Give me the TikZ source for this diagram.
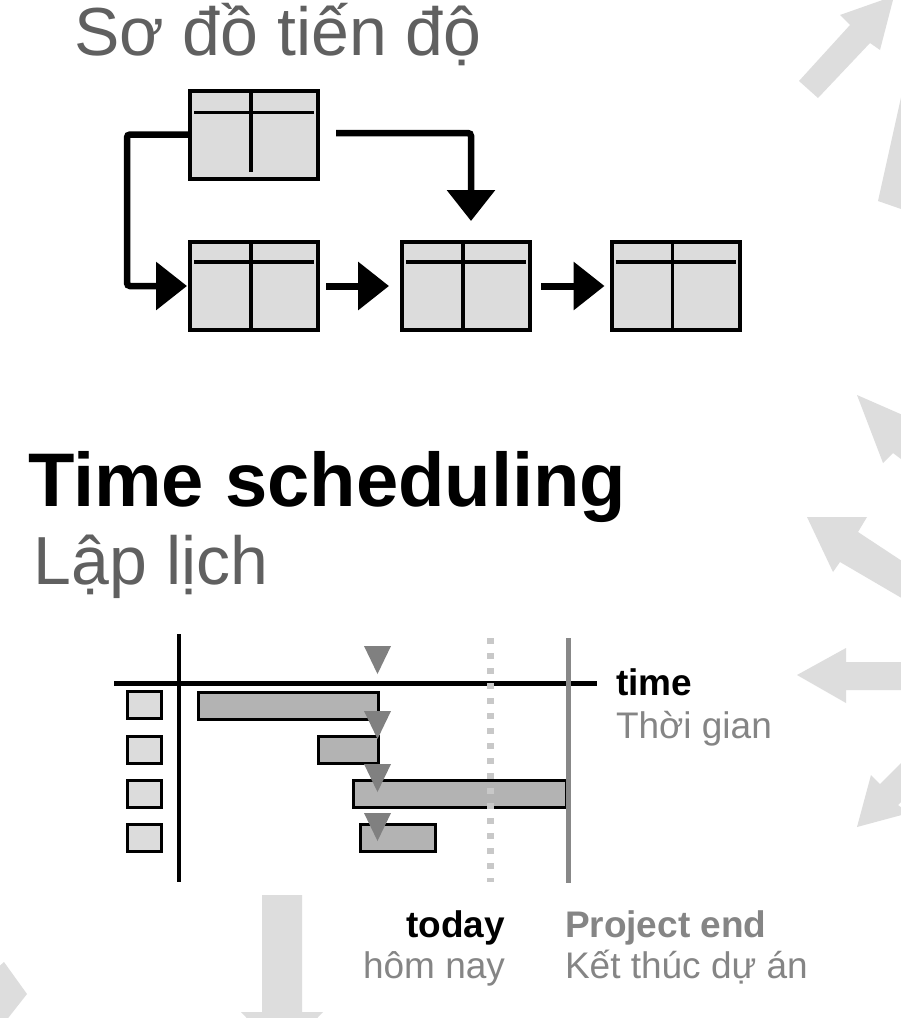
\documentclass[tikz,border=0pt]{standalone}
\usepackage{fontspec}
\setmainfont{Liberation Sans}
\usetikzlibrary{arrows.meta}
\definecolor{boxgray}{HTML}{DCDCDC}
\definecolor{bargray}{HTML}{B3B3B3}
\definecolor{trigray}{HTML}{808080}
\definecolor{dotgray}{HTML}{C8C8C8}
\definecolor{endgray}{HTML}{888888}
\definecolor{decogray}{HTML}{DDDDDD}
\definecolor{titlegray}{HTML}{606060}
\definecolor{labelgray}{HTML}{858585}
\newcommand\myfs[1]{\fontsize{#1}{#1}\selectfont}
\tikzset{
  deco/.style={fill=decogray, draw=none},
  taskbox/.style={draw=black, line width=4pt, fill=boxgray, minimum width=128pt, minimum height=88pt, inner sep=0pt, outer sep=0pt},
  inner/.style={line width=3.5pt, line cap=butt},
  conn/.style={line width=6.5pt, rounded corners=3pt},
  bighead/.style={-{Triangle[length=31pt,width=47pt]}},
  sq/.style={draw=black, line width=3pt, fill=boxgray, minimum width=34pt, minimum height=27pt, inner sep=0pt},
  bar/.style={draw=black, line width=3pt, fill=bargray, minimum height=27pt, inner sep=0pt},
  txt/.style={inner sep=0pt, outer sep=0pt},
  mtri/.pic={\fill[trigray] (-13.5,0) -- (13.5,0) -- (0,28) -- cycle;}
}
\begin{document}
\begin{tikzpicture}[x=1pt,y=-1pt]
\useasboundingbox (0,0) rectangle (901,1018);
\clip (0,0) rectangle (901,1018);
\fill[white] (0,0) rectangle (901,1018);
% decorative light arrows
\fill[deco] (799,81) -- (850,25) -- (840,15) -- (894,-4) -- (880,50) -- (870,43) -- (818,98) -- cycle;
\fill[deco] (904,84) -- (878,201) -- (904,210) -- cycle;
\fill[deco] (857,395) -- (905,416) -- (905,462) -- (893,453) -- (883,463) -- cycle;
\fill[deco] (807,517) -- (867,517) -- (858,532) -- (905,563) -- (905,600) -- (840,562) -- (833,572) -- cycle;
\fill[deco] (797,675) -- (846,648) -- (846,662) -- (905,662) -- (905,690) -- (846,690) -- (846,703) -- cycle;
\fill[deco] (857,827) -- (871,775) -- (880,784) -- (910,754) -- (930,774) -- (898,805) -- (909,813) -- cycle;
\fill[deco] (262,895) -- (302,895) -- (302,1012) -- (323,1012) -- (282,1055) -- (241,1012) -- (262,1012) -- cycle;
\fill[deco] (-5,970) -- (4,962) -- (27,994) -- (5,1022) -- (-5,1022) -- cycle;

% titles
\node[txt, anchor=base west, text=titlegray] (t1) at (74,55) {\myfs{68}Sơ đồ tiến độ};
\node[txt, anchor=base west, text=black] (t2) at (28,506) {\myfs{76}\bfseries Time scheduling};
\node[txt, anchor=base west, text=titlegray] (t3) at (34,584) {\myfs{68}Lập lịch};

% network boxes
\node[taskbox] (top) at (254,134.5) {};
\node[taskbox] (b1) at (254,286) {};
\node[taskbox] (b2) at (466,286) {};
\node[taskbox] (b3) at (675.5,286) {};
\draw[inner] ([xshift=4pt,yshift=-22pt]top.north west) -- ([xshift=-4pt,yshift=-22pt]top.north east);
\draw[inner] ([xshift=61pt]top.north west) -- ([xshift=61pt,yshift=7pt]top.south west);
\foreach \b in {b1,b2,b3}{
  \draw[inner] ([xshift=4pt,yshift=-20pt]\b.north west) -- ([xshift=-4pt,yshift=-20pt]\b.north east);
  \draw[inner] ([xshift=61pt]\b.north west) -- ([xshift=61pt]\b.south west);
}
% connectors
\draw[conn, bighead] (top.west) -- ++(-63,0) |- ([xshift=-3pt]b1.west);
\coordinate (r1) at (336,133);
\coordinate (r2) at (471,221);
\draw[conn, bighead] (r1) -| (r2);
\draw[line width=7pt, bighead] ([xshift=8pt]b1.east) -- ([xshift=-13pt]b2.west);
\draw[line width=7pt, bighead] ([xshift=11pt]b2.east) -- ([xshift=-7pt]b3.west);

% gantt axes
\coordinate (va1) at (179,634);
\coordinate (va2) at (179,882);
\coordinate (ha1) at (114,683);
\coordinate (ha2) at (597,683);
\draw[line width=4pt] (va1) -- (va2);
\draw[line width=5pt] (ha1) -- (ha2);
% row squares
\node[sq] (s1) at (144.5,705) {};
\node[sq] (s2) at (144.5,749.5) {};
\node[sq] (s3) at (144.5,793.5) {};
\node[sq] (s4) at (144.5,837.5) {};
% bars
\node[bar, minimum width=180pt] (g1) at (288.5,706) {};
\node[bar, minimum width=60pt] (g2) at (348.5,749.5) {};
\node[bar, minimum width=213pt] (g3) at (460,793.5) {};
\node[bar, minimum width=75pt] (g4) at (398,838) {};
% today / end lines
\coordinate (d1) at (490,638);
\coordinate (d2) at (490,882);
\draw[dotgray, line width=7pt, dash pattern=on 5.5pt off 9.5pt] (d1) -- (d2);
\coordinate (e1) at (568,638);
\coordinate (e2) at (568,883);
\draw[endgray, line width=5pt] (e1) -- (e2);
% markers
\pic at (377.5,646) {mtri};
\pic at (377.5,711) {mtri};
\pic at (377.5,764) {mtri};
\pic at (377.5,813) {mtri};

% labels
\node[txt, anchor=base west, text=black] (l1) at (616,695) {\myfs{37}\bfseries time};
\node[txt, anchor=base west, text=labelgray] (l2) at (616,738) {\myfs{37}Thời gian};
\node[txt, anchor=base east, text=black] (l3) at (505,937) {\myfs{37}\bfseries today};
\node[txt, anchor=base east, text=labelgray] (l4) at (505,978) {\myfs{37}hôm nay};
\node[txt, anchor=base west, text=labelgray] (l5) at (565,937) {\myfs{37}\bfseries Project end};
\node[txt, anchor=base west, text=labelgray] (l6) at (565,978) {\myfs{37}Kết thúc dự án};
\end{tikzpicture}
\end{document}
